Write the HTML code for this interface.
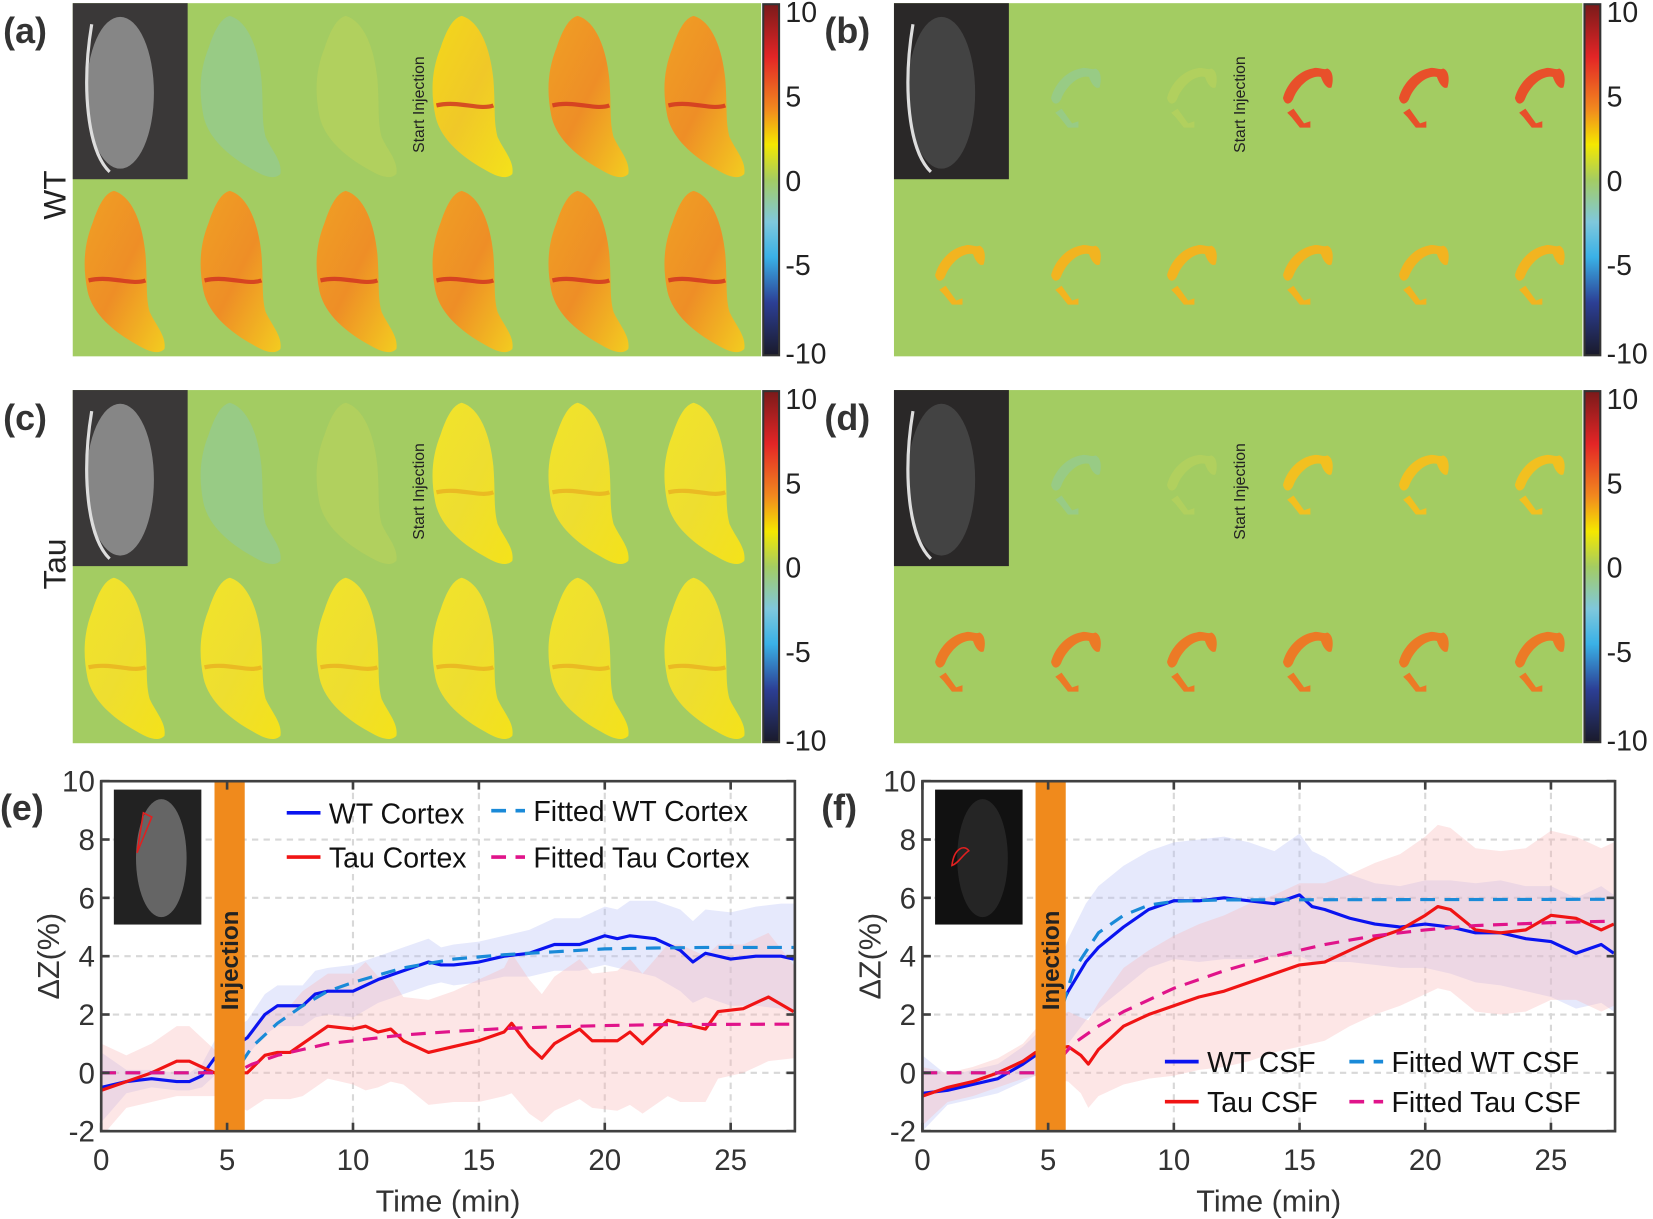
<!DOCTYPE html>
<html><head><meta charset="utf-8">
<style>
html,body{margin:0;padding:0;background:#fff}
svg{display:block;font-family:"Liberation Sans",sans-serif}
</style></head>
<body>
<svg id="fig" width="1653" height="1219" viewBox="0 0 1568 1156.3" xmlns="http://www.w3.org/2000/svg">
<defs>
<linearGradient id="cmap" x1="0" y1="0" x2="0" y2="1">
<stop offset="0" stop-color="#7a1a1a"/><stop offset="0.15" stop-color="#e32526"/>
<stop offset="0.3" stop-color="#f28a1e"/><stop offset="0.4" stop-color="#f4e800"/>
<stop offset="0.5" stop-color="#a4cc62"/><stop offset="0.62" stop-color="#7fc8dc"/>
<stop offset="0.72" stop-color="#3ab1e6"/><stop offset="0.85" stop-color="#2c3f95"/>
<stop offset="1" stop-color="#1a1a2a"/>
</linearGradient>
<linearGradient id="slc" x1="0" y1="0" x2="1" y2="1">
<stop offset="0" stop-color="#f2e42a"/><stop offset="0.5" stop-color="#eede30"/><stop offset="1" stop-color="#f4e21a"/>
</linearGradient>
<linearGradient id="slcWarm" x1="0" y1="0" x2="1" y2="1">
<stop offset="0" stop-color="#f4d81a"/><stop offset="0.5" stop-color="#f0c828"/><stop offset="1" stop-color="#f4e21a"/>
</linearGradient>
<linearGradient id="slcHot" x1="0" y1="0" x2="1" y2="1">
<stop offset="0" stop-color="#f0a024"/><stop offset="0.5" stop-color="#ee8e26"/><stop offset="1" stop-color="#f3cc20"/>
</linearGradient>
<path id="leaf" d="M28 0 C45 5 55 30 58 60 C60 85 58 100 62 115 C68 128 78 138 76 150 C70 156 60 152 50 146 C30 135 8 118 3 95 C-2 70 0 50 8 30 C14 12 20 2 28 0Z"/>
<path id="csf" d="M2 30 C6 15 18 4 30 2 C36 0 40 4 44 2 C50 4 50 14 48 20 C44 22 40 16 38 10 C30 8 18 16 12 30 C10 36 4 38 2 30Z M6 44 L12 40 L22 54 L28 52 L28 58 L18 58 L10 48Z"/>
</defs>
<g id="panels"></g>
<g id="charts"></g>
</svg>
<script>
const NS="http://www.w3.org/2000/svg";
const svg=document.getElementById('fig');
function el(tag,attrs,parent,text){const e=document.createElementNS(NS,tag);for(const k in attrs)e.setAttribute(k,attrs[k]);if(text!==undefined)e.textContent=text;(parent||svg).appendChild(e);return e;}

// ---------- image panels ----------
const colorbarTicks=["10","5","0","-5","-10"];
const panelLabels=["(a)","(b)","(c)","(d)"];
const P=document.getElementById('panels');
function imagePanel(idx,x0,y0,kind){
  const g=el('g',{},P);
  
  
  const bg=el('rect',{x:x0,y:y0,width:653,height:335,fill:'#a3cc62'},g);
  
  const mri=el('rect',{x:x0,y:y0,width:109,height:167,fill:kind==='csf'?'#2a2828':'#3a3838'},g);
  
  el('ellipse',{cx:x0+45,cy:y0+85,rx:32,ry:72,fill:kind==='csf'?'#4a4a4a':'#9a9a9a',opacity:0.8},g);
  el('path',{d:`M${x0+18} ${y0+20} C${x0+8} ${y0+80} ${x0+14} ${y0+140} ${x0+35} ${y0+160}`,stroke:'#ddd','stroke-width':3,fill:'none'},g);
  const st=el('text',{x:0,y:0,transform:`translate(${x0+333},${y0+142}) rotate(-90)`,'font-size':15,fill:'#222'},g,'Start Injection');
  
  const topX=[121,231,341,451,561], botX=[11,121,231,341,451,561];
  const rows=[[topX,12],[botX,178]];
  rows.forEach(([xs,dy],r)=>xs.forEach((dx,i)=>{
    const faint=(r===0&&i<2);
    if(kind==='cortex'){
      let fill='url(#slc)';
      if(idx===0){ fill=(r===0&&i===2)?'url(#slcWarm)':'url(#slcHot)'; }
      if(faint) fill=(i===0?'#8ecaa8':'#c0d45a');
      const u=el('use',{href:'#leaf',x:x0+dx,y:y0+dy,fill:fill,opacity:faint?0.5:1},g);
      
      if(!faint){el('path',{d:`M${x0+dx+4} ${y0+dy+85} C${x0+dx+25} ${y0+dy+80} ${x0+dx+45} ${y0+dy+90} ${x0+dx+58} ${y0+dy+85}`,stroke:idx===0?'#d03020':'#e8b020','stroke-width':4,fill:'none',opacity:0.8},g);}
    } else {
      let fill=faint?(i===0?'#8ecaa8':'#c0d45a'):'#f0a020';
      if(!faint&&idx===1&&r===0) fill='#e8502a';
      if(!faint&&idx===1&&r===1) fill='#f2b420';
      if(!faint&&idx===3&&r===1) fill='#ec7a26';
      if(!faint&&idx===3&&r===0) fill='#f2c020';
      const u=el('use',{href:'#csf',x:x0+dx+26,y:y0+dy+(r===0?48:50),fill:fill,opacity:faint?0.5:1},g);
      
    }
  }));
  const cb=el('rect',{x:x0+655,y:y0+1,width:15,height:333,fill:'url(#cmap)',stroke:'#333','stroke-width':2},g);
  
  colorbarTicks.forEach((t,i)=>{
    const ty=y0+9+i*(320/4);
    const tx=el('text',{x:x0+676,y:ty+9+(i===4?4:0),'font-size':27,fill:'#222'},g,t);
    
  });
  const lb=el('text',{x:x0-66,y:y0+38,'font-size':34,'font-weight':'bold',fill:'#333'},g,panelLabels[idx]);
  
}
imagePanel(0,69,3,'cortex');
imagePanel(1,848,3,'csf');
imagePanel(2,69,370,'cortex');
imagePanel(3,848,370,'csf');
[["WT",185],["Tau",535]].forEach(([t,cy])=>{
  const r=el('text',{x:0,y:0,transform:`translate(62,${cy}) rotate(-90)`,'font-size':30,fill:'#222','text-anchor':'middle'},P,t);
  
});

// ---------- chart data ----------
const xTicks=[0,5,10,15,20,25];
const yTicks=[-2,0,2,4,6,8,10];
// (e) cortex
const wtCortexT=[0,1,2,3,3.5,4,4.5,5.8,6.5,7,7.5,8,8.5,9,10,11,12,13,13.5,14,15,16,17,18,19,20,20.5,21,22,23,23.5,24,25,26,27,27.5];
const wtCortexV=[-0.5,-0.3,-0.2,-0.3,-0.3,-0.1,0.5,1.2,2.0,2.3,2.3,2.3,2.7,2.8,2.8,3.2,3.5,3.8,3.7,3.7,3.8,4.0,4.1,4.4,4.4,4.7,4.6,4.7,4.6,4.2,3.8,4.1,3.9,4.0,4.0,3.9];
const wtCortexErr=[1.2,0.4,0.3,0.3,0.3,0.4,0.6,0.6,0.7,0.7,0.7,0.7,0.8,0.8,0.9,0.8,0.8,0.8,0.6,0.7,0.7,0.7,0.8,0.9,0.9,1.0,1.0,1.2,1.3,1.4,1.4,1.5,1.6,1.7,1.8,1.9];
const tauCortexT=[0,1,2,3,3.5,4,4.5,5.8,6.5,7,7.5,8,9,10,10.5,11,11.5,12,13,14,15,16,16.3,17,17.5,18,19,19.5,20.5,21,21.5,22,22.5,23,24,24.5,25.5,26.5,27.5];
const tauCortexV=[-0.6,-0.3,0,0.4,0.4,0.2,0,0,0.6,0.7,0.7,1.0,1.6,1.5,1.6,1.4,1.5,1.1,0.7,0.9,1.1,1.4,1.7,0.9,0.5,1.0,1.5,1.1,1.1,1.4,1.0,1.4,1.8,1.7,1.5,2.1,2.2,2.6,2.1];
const tauCortexErr=[1.6,0.9,1.0,1.2,1.2,1.0,0.8,1.3,1.5,1.6,1.6,1.8,1.8,1.9,2.2,1.9,1.8,1.5,1.8,1.9,2.1,2.2,2.4,2.3,2.2,2.3,2.4,2.3,2.4,2.5,2.4,2.5,2.6,2.7,2.5,2.3,2.2,2.2,1.6];
const fitT=[0,4.5,5.3,6,7,8,9,10,12,14,16,18,20,22,24,27.5];
const fitWtCortexV=[0,0,0,0.9,1.7,2.3,2.8,3.1,3.6,3.9,4.05,4.15,4.25,4.28,4.3,4.3];
const fitTauCortexV=[0,0,0,0.3,0.6,0.8,1.0,1.1,1.3,1.42,1.52,1.58,1.62,1.65,1.66,1.67];
// (f) CSF
const wtCsfT=[0,1,2,3,4,4.5,5.8,6.5,7,8,9,10,11,12,13,14,15,15.5,16,17,18,19,20,21,22,23,24,25,26,27,27.5];
const wtCsfV=[-0.7,-0.6,-0.4,-0.2,0.3,0.6,2.8,3.8,4.3,5.0,5.6,5.9,5.9,6.0,5.9,5.8,6.1,5.7,5.6,5.3,5.1,5.0,5.1,5.0,4.8,4.8,4.6,4.5,4.1,4.4,4.1];
const wtCsfErr=[1.3,0.5,0.5,0.5,0.6,0.7,1.8,2.0,2.1,2.1,2.0,2.0,2.1,2.1,2.0,1.8,2.1,1.9,1.8,1.5,1.4,1.4,1.5,1.6,1.7,1.8,1.8,1.9,1.9,2.0,2.0];
const tauCsfT=[0,1,2,3,4,4.5,5.8,6.3,6.6,7,8,9,10,11,12,13,14,15,16,17,18,19,20,20.5,21,22,23,24,25,26,27,27.5];
const tauCsfV=[-0.8,-0.5,-0.3,0,0.4,0.7,0.9,0.6,0.3,0.8,1.6,2.0,2.3,2.6,2.8,3.1,3.4,3.7,3.8,4.2,4.6,4.9,5.4,5.7,5.6,4.9,4.8,4.9,5.4,5.3,4.9,5.1];
const tauCsfErr=[1.0,0.5,0.5,0.5,0.6,0.8,1.2,1.3,1.5,1.6,2.0,2.2,2.4,2.5,2.6,2.7,2.7,2.8,2.7,2.6,2.6,2.6,2.7,2.8,2.8,2.8,2.8,2.8,2.9,2.8,2.8,2.8];
const fitWtCsfT=[0,5,5.3,6,7,8,9,10,12,27.5];
const fitWtCsfV=[0,0,1.5,3.5,4.8,5.4,5.75,5.88,5.93,5.95];
const fitTauCsfT=[0,5,6,7,8,10,12,14,16,18,20,22,25,27.5];
const fitTauCsfV=[0,0,1.0,1.6,2.1,2.9,3.5,4.0,4.4,4.7,4.9,5.05,5.15,5.2];
const injection=[4.5,5.7];

const C=document.getElementById('charts');
function chart(name,L,R,T,B,series,legend,label,insetKind){
  const g=el('g',{},C);
  
  
  const xmax=27.55;
  const px=t=>L+t*(R-L)/xmax, py=v=>T+(10-v)*(B-T)/12;
  const cp=name+'-clip';
  const cl=el('clipPath',{id:cp},g);el('rect',{x:L,y:T,width:R-L,height:B-T},cl);
  xTicks.forEach(t=>{if(t>0){const l=el('line',{x1:px(t),x2:px(t),y1:T,y2:B,stroke:'#d8d8d8','stroke-width':2,'stroke-dasharray':'6 5'},g);}});
  yTicks.forEach(v=>{if(v>-2&&v<10){const l=el('line',{x1:L,x2:R,y1:py(v),y2:py(v),stroke:'#d8d8d8','stroke-width':2,'stroke-dasharray':'6 5'},g);}});
  const cg=el('g',{'clip-path':`url(#${cp})`},g);
  series.forEach(s=>{
    if(!s.err)return;
    let d='M'+s.t.map((t,i)=>px(t)+' '+py(s.v[i]+s.err[i])).join(' L');
    for(let i=s.t.length-1;i>=0;i--)d+=' L'+px(s.t[i])+' '+py(s.v[i]-s.err[i]);
    const b=el('path',{d:d+'Z',fill:s.band,opacity:0.35},cg);
    
  });
  series.forEach(s=>{
    const d='M'+s.t.map((t,i)=>px(t)+' '+py(s.v[i])).join(' L');
    const p=el('path',{d:d,fill:'none',stroke:s.color,'stroke-width':3,'stroke-dasharray':s.dash||'none','stroke-linejoin':'round'},cg);
    
  });
  const ib=el('rect',{x:px(injection[0]),y:T,width:px(injection[1])-px(injection[0]),height:B-T,fill:'#f08a1c'},g);
  
  const it=el('text',{x:0,y:0,transform:`translate(${(px(injection[0])+px(injection[1]))/2+8},${T+170}) rotate(-90)`,'font-size':23,'font-weight':'bold',fill:'#222','text-anchor':'middle'},g,'Injection');
  
  const ix=L+12,iy=T+8;
  const ins=el('rect',{x:ix,y:iy,width:83,height:128,fill:insetKind==='csf'?'#111':'#222'},g);
  
  el('ellipse',{cx:ix+45,cy:iy+65,rx:24,ry:56,fill:insetKind==='csf'?'#2a2a2a':'#777',opacity:0.8},g);
  el('path',{d:insetKind==='csf'?`M${ix+16} ${iy+72} C${ix+18} ${iy+55} ${ix+28} ${iy+52} ${ix+32} ${iy+58} C${ix+26} ${iy+62} ${ix+22} ${iy+70} ${ix+16} ${iy+72}Z`:`M${ix+22} ${iy+60} L${ix+28} ${iy+22} L${ix+36} ${iy+26} Z`,fill:'none',stroke:'#e02020','stroke-width':1.5},g);
  const ax=el('rect',{x:L,y:T,width:R-L,height:B-T,fill:'none',stroke:'#404040','stroke-width':2.5},g);
  
  xTicks.forEach(t=>{
    el('line',{x1:px(t),x2:px(t),y1:B,y2:B-8,stroke:'#404040','stroke-width':2.5},g);
    el('line',{x1:px(t),x2:px(t),y1:T,y2:T+8,stroke:'#404040','stroke-width':2.5},g);
    const tx=el('text',{x:px(t),y:B+37,'font-size':28,fill:'#333','text-anchor':'middle'},g,String(t));
    
  });
  yTicks.forEach(v=>{
    el('line',{x1:L,x2:L+8,y1:py(v),y2:py(v),stroke:'#404040','stroke-width':2.5},g);
    el('line',{x1:R,x2:R-8,y1:py(v),y2:py(v),stroke:'#404040','stroke-width':2.5},g);
    const tx=el('text',{x:L-6,y:py(v)+10,'font-size':28,fill:'#333','text-anchor':'end'},g,String(v));
    
  });
  const xl=el('text',{x:(L+R)/2,y:B+76,'font-size':29,fill:'#333','text-anchor':'middle'},g,'Time (min)');
  
  const yl=el('text',{x:0,y:0,transform:`translate(${L-40},${(T+B)/2}) rotate(-90)`,'font-size':29,fill:'#333','text-anchor':'middle'},g,'ΔZ(%)');
  
  const pl=el('text',{x:L-96,y:T+37,'font-size':34,'font-weight':'bold',fill:'#333'},g,label);
  
  const lg=el('g',{},g);
  
  legend.forEach(e=>{
    const it=el('g',{},lg);
    
    el('line',{x1:e.x,x2:e.x+32,y1:e.y,y2:e.y,stroke:e.color,'stroke-width':3.5,'stroke-dasharray':e.dash||'none'},it);
    el('text',{x:e.x+40,y:e.y+10,'font-size':27,fill:'#111'},it,e.text);
  });
}
chart('chart-e-cortex',96,754,741,1073,[
  {id:'wt-cortex',t:wtCortexT,v:wtCortexV,err:wtCortexErr,color:'#0a14f0',band:'#b8bff5'},
  {id:'tau-cortex',t:tauCortexT,v:tauCortexV,err:tauCortexErr,color:'#f01414',band:'#f8b8b8'},
  {id:'fitted-wt-cortex',t:fitT,v:fitWtCortexV,color:'#1a8ad8',dash:'14 9'},
  {id:'fitted-tau-cortex',t:fitT,v:fitTauCortexV,color:'#e0148a',dash:'14 9'}
],[
  {x:272,y:771,color:'#0a14f0',text:'WT Cortex'},
  {x:466,y:769,color:'#1a8ad8',dash:'14 9',text:'Fitted WT Cortex'},
  {x:272,y:813,color:'#f01414',text:'Tau Cortex'},
  {x:466,y:813,color:'#e0148a',dash:'14 9',text:'Fitted Tau Cortex'}
],'(e)','cortex');
chart('chart-f-csf',875,1532,741,1073,[
  {id:'wt-csf',t:wtCsfT,v:wtCsfV,err:wtCsfErr,color:'#0a14f0',band:'#b8bff5'},
  {id:'tau-csf',t:tauCsfT,v:tauCsfV,err:tauCsfErr,color:'#f01414',band:'#f8b8b8'},
  {id:'fitted-wt-csf',t:fitWtCsfT,v:fitWtCsfV,color:'#1a8ad8',dash:'14 9'},
  {id:'fitted-tau-csf',t:fitTauCsfT,v:fitTauCsfV,color:'#e0148a',dash:'14 9'}
],[
  {x:1105,y:1007,color:'#0a14f0',text:'WT CSF'},
  {x:1280,y:1007,color:'#1a8ad8',dash:'14 9',text:'Fitted WT CSF'},
  {x:1105,y:1045,color:'#f01414',text:'Tau CSF'},
  {x:1280,y:1045,color:'#e0148a',dash:'14 9',text:'Fitted Tau CSF'}
],'(f)','csf');
</script>
</body></html>
